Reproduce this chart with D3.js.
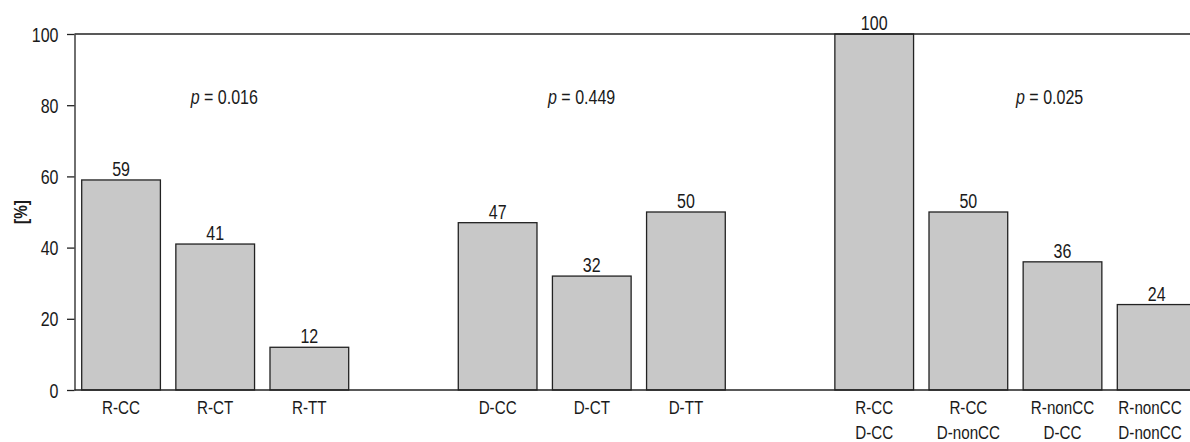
<!DOCTYPE html>
<html>
<head>
<meta charset="utf-8">
<script src="https://cdn.jsdelivr.net/npm/d3@7/dist/d3.min.js"></script>
<style>
  html, body { margin: 0; padding: 0; background: #fff; }
  svg { display: block; }
  text { font-family: "Liberation Sans", Arial, sans-serif; fill: #1a1a1a; }
</style>
</head>
<body>
<svg id="chart" width="1190" height="442"></svg>
<script>
// ---- data ----
const categories = [
  ["R-CC"], ["R-CT"], ["R-TT"], null,
  ["D-CC"], ["D-CT"], ["D-TT"], null,
  ["R-CC", "D-CC"], ["R-CC", "D-nonCC"], ["R-nonCC", "D-CC"], ["R-nonCC", "D-nonCC"]
];
const values = [59, 41, 12, null, 47, 32, 50, null, 100, 50, 36, 24];
const yTicks = [0, 20, 40, 60, 80, 100];
const pLabels = ["0.016", "0.449", "0.025"];
const yTitle = "[%]";

// ---- layout ----
const svg = d3.select("#chart");
const W = 1190, H = 442;
const axisX = 74.5, y0 = 390, y100 = 34;
const SX = 0.8; // horizontal condensing of text

const slots = categories.map((c, i) => "s" + i);
const x = d3.scaleBand().domain(slots).range([81.7, 1196]).paddingInner(0.164).paddingOuter(0);
const y = d3.scaleLinear().domain([0, 100]).range([y0, y100]);

function ctext(parent, px, py, size, anchor) {
  return parent.append("text")
    .attr("transform", `translate(${px},${py}) scale(${SX},1)`)
    .attr("text-anchor", anchor || "middle")
    .attr("font-size", size);
}

// bars
const data = categories.map((c, i) => ({ key: slots[i], cat: c, v: values[i] })).filter(d => d.cat);

svg.append("g").selectAll("rect").data(data).join("rect")
  .attr("x", d => x(d.key))
  .attr("y", d => y(d.v))
  .attr("width", x.bandwidth())
  .attr("height", d => y(0) - y(d.v))
  .attr("fill", "#c8c8c8")
  .attr("stroke", "#222")
  .attr("stroke-width", 1.3);

// top line and baseline
[100, 0].forEach(v => {
  svg.append("line")
    .attr("x1", axisX).attr("x2", W)
    .attr("y1", y(v)).attr("y2", y(v))
    .attr("stroke", "#222").attr("stroke-width", 1.3);
});

// y axis
const yAxis = d3.axisLeft(y).tickValues(yTicks).tickSize(7.5).tickSizeOuter(0).tickFormat("");
const gy = svg.append("g").attr("transform", `translate(${axisX},0)`).call(yAxis);
gy.select(".domain").attr("stroke", "#222").attr("stroke-width", 1.3);
gy.selectAll(".tick line").attr("stroke", "#222").attr("stroke-width", 1.3);
gy.selectAll(".tick").each(function(d) {
  ctext(d3.select(this), -16, 7, 20, "end").text(d);
});

// y title
svg.append("text")
  .attr("transform", `translate(27,${(y0 + y100) / 2}) rotate(-90) scale(0.85,1)`)
  .attr("text-anchor", "middle")
  .attr("font-size", 18).attr("font-weight", "bold")
  .text(yTitle);

// value labels
const gv = svg.append("g");
data.forEach(d => {
  ctext(gv, x(d.key) + x.bandwidth() / 2, y(d.v) - 4, 20).text(d.v);
});

// category labels
const gc = svg.append("g");
data.forEach(d => {
  const cx = Math.min(x(d.key) + x.bandwidth() / 2, W - 40);
  d.cat.forEach((line, i) => {
    ctext(gc, cx, 414 + i * 25, 19).text(line);
  });
});

// p-value annotations
const pX = [190.7, 548, 1016];
pLabels.forEach((p, i) => {
  const t = ctext(svg, pX[i], 104, 20, "start");
  t.append("tspan").attr("font-style", "italic").text("p");
  t.append("tspan").text(" = " + p);
});
</script>
</body>
</html>
